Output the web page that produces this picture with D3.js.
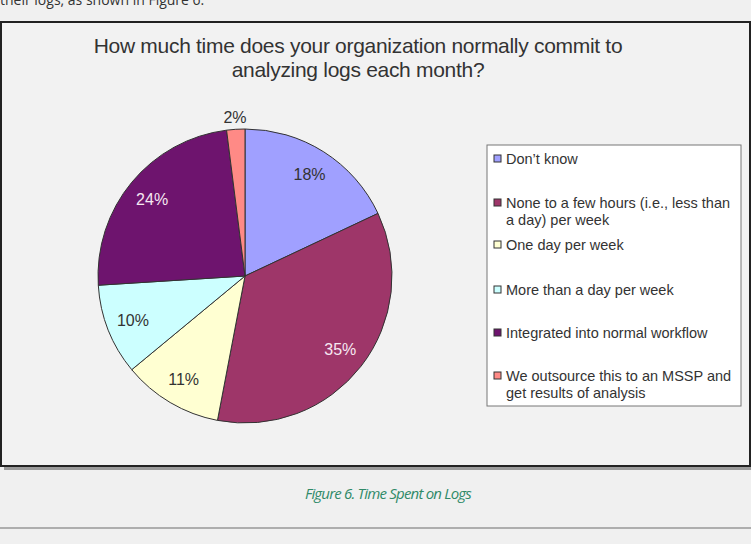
<!DOCTYPE html>
<html>
<head>
<meta charset="utf-8">
<script src="https://cdn.jsdelivr.net/npm/d3@7"></script>
<style>
  body { margin: 0; background: #f0f0f0; }
  svg { display: block; }
</style>
</head>
<body>
<svg id="chart" width="751" height="544"></svg>
<script>
// ------------------------------------------
//  Data
// ------------------------------------------
const categories = [
  'Don\u2019t know',
  'None to a few hours (i.e., less than a day) per week',
  'One day per week',
  'More than a day per week',
  'Integrated into normal workflow',
  'We outsource this to an MSSP and get results of analysis'
]
const legendLines = [
  ['Don\u2019t know'],
  ['None to a few hours (i.e., less than', 'a day) per week'],
  ['One day per week'],
  ['More than a day per week'],
  ['Integrated into normal workflow'],
  ['We outsource this to an MSSP and', 'get results of analysis']
]
const values = [18, 35, 11, 10, 24, 2]
const colors = ['#a0a0ff', '#9e3669', '#ffffd2', '#ccffff', '#6e146e', '#ff8a86']
const labelColors = ['#333', '#f6e8f2', '#333', '#333', '#f6e8f2', '#333']
const titleLines = ['How much time does your organization normally commit to', 'analyzing logs each month?']

const svg = d3.select('#chart')

// ------------------------------------------
//  Page furniture
// ------------------------------------------
svg.append('text')
  .attr('x', 0).attr('y', 5)
  .attr('font-family', 'Open Sans, sans-serif')
  .attr('font-size', 14)
  .attr('fill', '#333')
  .text('their logs, as shown in Figure 6.')

// shadow + frame
svg.append('rect')
  .attr('x', 4).attr('y', 26).attr('width', 751).attr('height', 444)
  .attr('fill', '#9a9a9a')
svg.append('rect')
  .attr('x', 1).attr('y', 22).attr('width', 749).attr('height', 444)
  .attr('fill', '#f2f2f2').attr('stroke', '#222').attr('stroke-width', 2)

svg.append('g')
  .selectAll('text')
  .data(titleLines)
  .enter().append('text')
  .attr('x', 358)
  .attr('y', (d, i) => 53 + i * 24)
  .attr('text-anchor', 'middle')
  .attr('font-family', 'Liberation Sans, Arial, sans-serif')
  .attr('font-size', 21)
  .attr('letter-spacing', -0.3)
  .attr('fill', '#333')
  .text(d => d)

svg.append('text')
  .attr('x', 388).attr('y', 499)
  .attr('text-anchor', 'middle')
  .attr('font-family', 'Open Sans, sans-serif')
  .attr('font-style', 'italic')
  .attr('font-size', 15)
  .attr('letter-spacing', -0.8)
  .attr('fill', '#2f8a68')
  .text('Figure 6. Time Spent on Logs')

svg.append('line')
  .attr('x1', 0).attr('x2', 751).attr('y1', 528).attr('y2', 528)
  .attr('stroke', '#999').attr('stroke-width', 1.5)

// ------------------------------------------
//  Pie
// ------------------------------------------
const cx = 245, cy = 276, radius = 147

const pie = d3.pie().sort(null).value(d => d)
const arcs = pie(values)
const arc = d3.arc().innerRadius(0).outerRadius(radius)
const labelArc = d3.arc().innerRadius(radius * 0.82).outerRadius(radius * 0.82)
const outerArc = d3.arc().innerRadius(radius * 1.08).outerRadius(radius * 1.08)

const g = svg.append('g').attr('transform', `translate(${cx},${cy})`)

g.selectAll('.slice')
  .data(arcs)
  .enter().append('path')
  .attr('class', 'slice')
  .attr('d', arc)
  .attr('fill', (d, i) => colors[i])
  .attr('stroke', '#333')
  .attr('stroke-width', 1)

g.selectAll('.label')
  .data(arcs)
  .enter().append('text')
  .attr('class', 'label')
  .attr('transform', d => {
    const p = d.data < 5 ? outerArc.centroid(d) : labelArc.centroid(d)
    return `translate(${p[0]},${p[1]})`
  })
  .attr('dy', '0.35em')
  .attr('text-anchor', 'middle')
  .attr('font-family', 'Liberation Sans, Arial, sans-serif')
  .attr('font-size', 16)
  .attr('fill', (d, i) => labelColors[i])
  .text(d => d.data + '%')

// ------------------------------------------
//  Legend
// ------------------------------------------
const legend = svg.append('g')
legend.append('rect')
  .attr('x', 487).attr('y', 145).attr('width', 254).attr('height', 261)
  .attr('fill', '#fff').attr('stroke', '#777').attr('stroke-width', 1)

const rowY = [159, 203, 245, 290, 333, 376]
const item = legend.selectAll('.item')
  .data(categories)
  .enter().append('g')
  .attr('class', 'item')
  .attr('transform', (d, i) => `translate(494,${rowY[i]})`)

item.append('rect')
  .attr('x', 0).attr('y', -4).attr('width', 7).attr('height', 7)
  .attr('fill', (d, i) => colors[i])
  .attr('stroke', '#333').attr('stroke-width', 1)

item.append('text')
  .attr('font-family', 'Liberation Sans, Arial, sans-serif')
  .attr('font-size', 14.5)
  .attr('fill', '#333')
  .selectAll('tspan')
  .data((d, i) => legendLines[i])
  .enter().append('tspan')
  .attr('x', 12)
  .attr('y', (d, j) => 5 + j * 17)
  .text(d => d)
</script>
</body>
</html>
